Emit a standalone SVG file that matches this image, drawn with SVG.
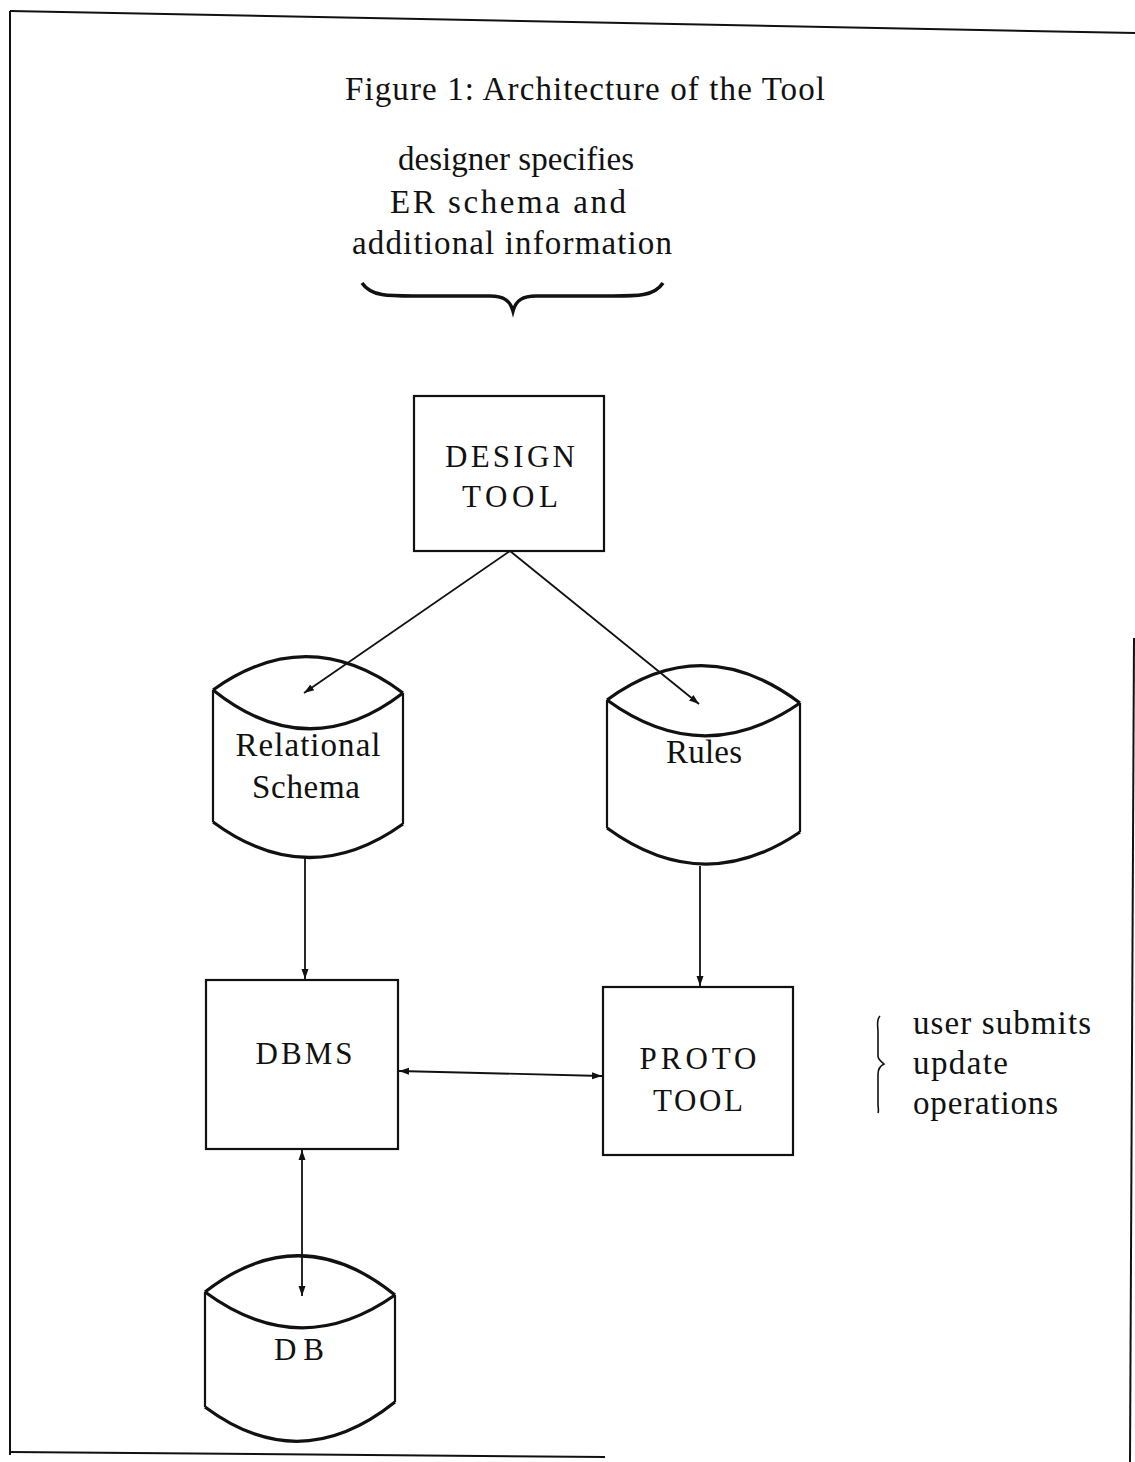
<svg xmlns="http://www.w3.org/2000/svg" width="1135" height="1462" viewBox="0 0 1135 1462">
<style>
text{font-family:"Liberation Serif","Times New Roman",serif;fill:#111;font-size:33px}
.lbl{text-anchor:middle}
.cap{font-size:31px}
.box{fill:none;stroke:#111;stroke-width:2.2}
.cyl{fill:none;stroke:#111;stroke-width:2.2}
.arc{fill:none;stroke:#111;stroke-width:3.2}
.edge{fill:none;stroke:#111;stroke-width:1.8}
.frame{fill:none;stroke:#111;stroke-width:2}
</style>
<defs>
<marker id="ah" viewBox="0 0 10 10" refX="10" refY="5" markerWidth="10" markerHeight="10" markerUnits="userSpaceOnUse" orient="auto-start-reverse">
<path d="M0,1.5 L10,5 L0,8.5 Z" fill="#111"/>
</marker>
</defs>
<rect width="1135" height="1462" fill="#fff"/>
<g id="frame">
<path class="frame" d="M10,11 L1135,33"/>
<path class="frame" d="M10,11 L10,1455"/>
<path class="frame" d="M10,1452 L605,1457"/>
<path class="frame" d="M1134,638 L1130,1462"/>
</g>
<g id="title">
<text class="lbl" x="585" y="100" textLength="480">Figure 1: Architecture of the Tool</text>
</g>
<g id="designer-note">
<text class="lbl" x="516" y="170" textLength="236">designer specifies</text>
<text class="lbl" x="508" y="213" textLength="236">ER schema and</text>
<text class="lbl" x="512" y="254" textLength="320">additional information</text>
<path d="M362,283 C372,298 392,296 430,296 L490,296 C503,296 510,300 513,311 C516,300 523,296 536,296 L596,296 C634,296 653,298 663,283" fill="none" stroke="#111" stroke-width="3.5"/>
</g>
<g id="design-tool">
<rect class="box" x="414" y="396" width="190" height="155"/>
<text class="lbl cap" x="510" y="467" textLength="130">DESIGN</text>
<text class="lbl cap" x="510" y="507" textLength="96">TOOL</text>
</g>
<g id="relational-schema">
<path class="arc" d="M213,690 Q308,622 403,693"/>
<path class="arc" d="M213,690 Q308,766 403,693"/>
<path class="cyl" d="M213,690 L213,822 M403,693 L403,824"/>
<path class="arc" d="M213,822 Q308,892 403,824"/>
<text class="lbl" x="308" y="756" textLength="145">Relational</text>
<text class="lbl" x="306" y="798" textLength="108">Schema</text>
</g>
<g id="rules">
<path class="arc" d="M607,700 Q703,630 800,703"/>
<path class="arc" d="M607,700 Q703,770 800,703"/>
<path class="cyl" d="M607,700 L607,828 M800,703 L800,832"/>
<path class="arc" d="M607,828 Q703,898 800,832"/>
<text class="lbl" x="704" y="763" textLength="76">Rules</text>
</g>
<g id="dbms">
<rect class="box" x="206" y="980" width="192" height="169"/>
<text class="lbl cap" x="304" y="1064" textLength="97">DBMS</text>
</g>
<g id="proto-tool">
<rect class="box" x="603" y="987" width="190" height="168"/>
<text class="lbl cap" x="698" y="1069" textLength="117">PROTO</text>
<text class="lbl cap" x="698" y="1111" textLength="90">TOOL</text>
</g>
<g id="db">
<path class="arc" d="M205,1292 Q300,1218 395,1295"/>
<path class="arc" d="M205,1292 Q300,1362 395,1295"/>
<path class="cyl" d="M205,1292 L205,1407 M395,1295 L395,1402"/>
<path class="arc" d="M205,1407 Q300,1478 395,1402"/>
<text class="lbl cap" x="299" y="1360" textLength="50">DB</text>
</g>
<g id="user-note">
<path d="M880,1016 C876,1020 878,1026 878,1032 L878,1056 C878,1060 882,1062 884,1064 C880,1066 878,1070 878,1074 L878,1104 C878,1108 879,1110 878,1113" fill="none" stroke="#111" stroke-width="1.6"/>
<text x="913" y="1034" textLength="178">user submits</text>
<text x="913" y="1074" textLength="95">update</text>
<text x="913" y="1114" textLength="145">operations</text>
</g>
<g id="connectors">
<path class="edge" d="M510,551 L304,693" marker-end="url(#ah)"/>
<path class="edge" d="M510,551 L699,704" marker-end="url(#ah)"/>
<path class="edge" d="M305,857 L305,979" marker-end="url(#ah)"/>
<path class="edge" d="M700,866 L700,986" marker-end="url(#ah)"/>
<path class="edge" d="M399,1071 L602,1076" marker-start="url(#ah)" marker-end="url(#ah)"/>
<path class="edge" d="M302,1150 L302,1296" marker-start="url(#ah)" marker-end="url(#ah)"/>
</g>
</svg>
